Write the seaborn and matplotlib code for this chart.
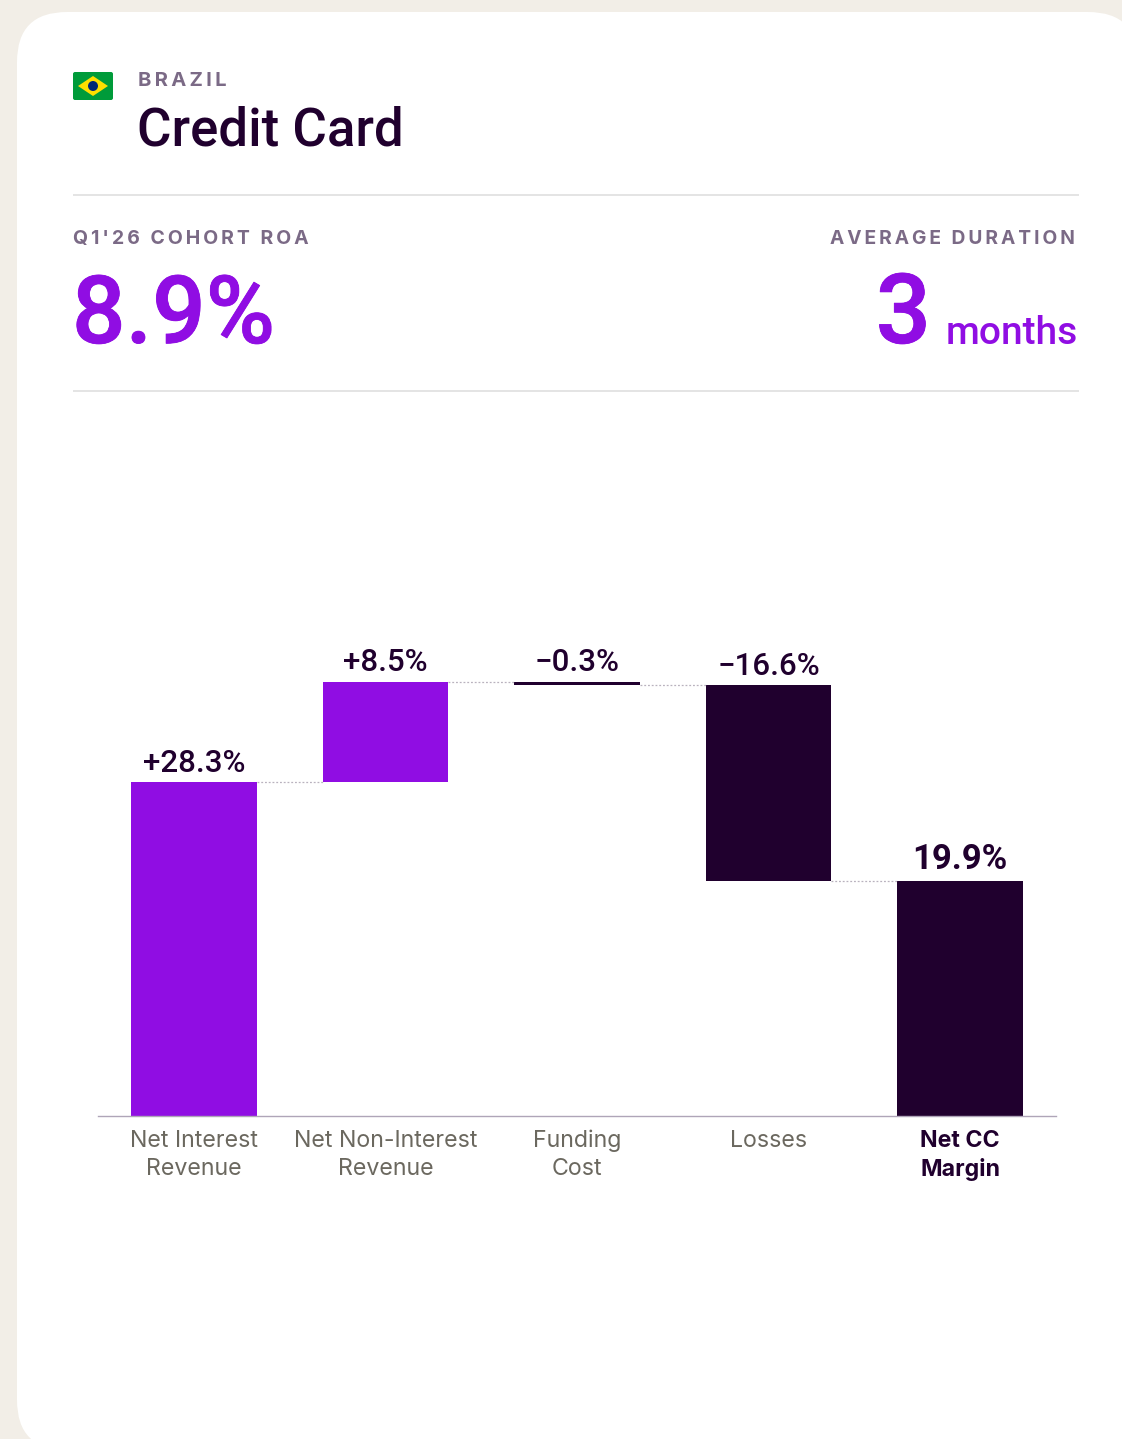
import seaborn as sns
import matplotlib.pyplot as plt
import matplotlib.patheffects as pe
import numpy as np
from matplotlib.patches import FancyBboxPatch, Polygon, Circle, Rectangle

W, H = 1122, 1439

# Chart values
categories = ["Net Interest\nRevenue", "Net Non-Interest\nRevenue", "Funding\nCost", "Losses", "Net CC\nMargin"]
value_labels = ["+28.3%", "+8.5%", "\u22120.3%", "\u221216.6%", "19.9%"]
bottoms = [0, 28.3, 36.5, 19.9, 0]
heights = [28.3, 8.5, 0.3, 16.6, 19.9]
connector_levels = [28.3, 36.8, 36.5, 19.9]

DARK = "#20002E"
PURPLE = "#900DE3"
MUTED = "#7B6A86"
BG = "#F2EEE7"
HEAD_FONT = ["Roboto", "DejaVu Sans"]
bar_colors = [PURPLE, PURPLE, DARK, DARK, DARK]

sns.set_theme(style="white")
plt.rcParams['font.family'] = ['Inter', 'DejaVu Sans']

fig = plt.figure(figsize=(W / 100, H / 100), dpi=100, facecolor=BG)

# page layer in pixel coordinates
bg = fig.add_axes([0, 0, 1, 1])
bg.set_xlim(0, W)
bg.set_ylim(H, 0)
bg.axis("off")
r = 50
bg.add_patch(FancyBboxPatch((17 + r, 12 + r), 1121 - 2 * r, 1438 - 2 * r, boxstyle=f"round,pad={r},rounding_size={r}",
                            fc="white", ec="none"))

# flag
bg.add_patch(FancyBboxPatch((74, 73), 38, 26, boxstyle="round,pad=1,rounding_size=2", fc="#009B3A", ec="none"))
bg.add_patch(Polygon([(78, 86), (93, 76), (108, 86), (93, 96)], fc="#FEDF00", ec="none"))
bg.add_patch(Circle((93, 86), 5, fc="#002776", ec="none"))

# divider lines
bg.add_patch(Rectangle((73, 194), 1006, 2, fc="#E4E4E4", ec="none"))
bg.add_patch(Rectangle((73, 390), 1006, 2, fc="#E4E4E4", ec="none"))

HAIR = "\u200a"
def spaced(s, n=2):
    return (HAIR * n).join(s)

heavy = [pe.withStroke(linewidth=0.6, foreground=PURPLE)]

bg.text(138, 86, spaced("BRAZIL", 2), fontsize=14.5, fontweight="bold", color=MUTED, va="baseline")
bg.text(137, 146, "Credit Card", fontsize=38, fontweight="medium", family=HEAD_FONT, color=DARK, va="baseline")
bg.text(73, 244, spaced("Q1'26 COHORT ROA", 2), fontsize=14, fontweight="bold", color=MUTED, va="baseline")
bg.text(1075, 244, spaced("AVERAGE DURATION", 2), fontsize=13.8, fontweight="bold", color=MUTED, va="baseline", ha="right")
bg.text(72, 343, "8.9%", fontsize=68, fontweight="medium", family=HEAD_FONT, color=PURPLE, va="baseline", path_effects=heavy)
bg.text(931, 343, "3", fontsize=70, fontweight="medium", family=HEAD_FONT, color=PURPLE, va="baseline", ha="right", path_effects=heavy)
bg.text(1078, 344, "months", fontsize=28, fontweight="medium", family=HEAD_FONT, color=PURPLE, va="baseline", ha="right")

# waterfall, axis line at y=1116, 11.8 px per point
top_px = 600
ax = fig.add_axes([98 / W, 1 - 1116 / H, (1056 - 98) / W, (1116 - top_px) / H])
ax.patch.set_alpha(0)
for i, cat in enumerate(categories):
    sns.barplot(x=[cat], y=[heights[i]], order=categories, bottom=bottoms[i], color=bar_colors[i],
                width=0.655, saturation=1, linewidth=0, edgecolor="none", ax=ax)
ax.set_xlim(-0.5, 4.5)
ax.set_ylim(0, (1116 - top_px) / 11.8)
ax.set_yticks([])
ax.set_ylabel("")
sns.despine(ax=ax, left=True)
ax.spines["bottom"].set_color("#AFA5B8")
ax.spines["bottom"].set_linewidth(1)
ax.tick_params(axis="x", length=0, pad=9.8)
for i, lab in enumerate(ax.get_xticklabels()):
    lab.set_fontsize(16.7)
    lab.set_linespacing(1.36)
    lab.set_color("#6B685F")
    if i == 4:
        lab.set_color(DARK)
        lab.set_fontweight("bold")

# connectors between the bars
for i, lv in enumerate(connector_levels):
    ax.plot([i + 0.3275, i + 1 - 0.3275], [lv, lv], color="#B9B2BE", lw=0.9, ls=(0, (1.5, 1.5)))

# value labels
levels = np.array(bottoms) + np.array(heights)
for i, (lv, txt) in enumerate(zip(levels, value_labels)):
    last = i == 4
    ax.annotate(txt, (i, lv), xytext=(0, 7.5 if not last else 8.5), textcoords="offset points", ha="center", va="baseline",
                fontsize=25 if last else 22.5, fontweight="bold" if last else "medium", family=HEAD_FONT, color=DARK)

fig.savefig("out.png", dpi=100, facecolor=BG)
